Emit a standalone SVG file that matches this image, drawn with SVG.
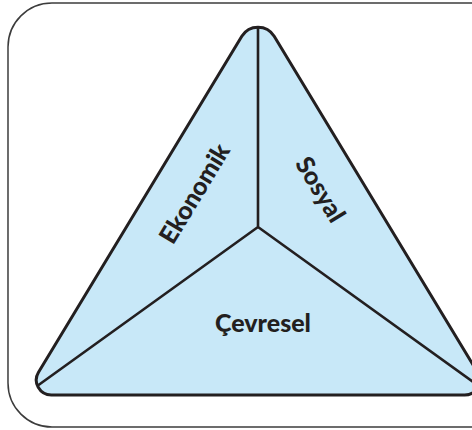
<svg xmlns="http://www.w3.org/2000/svg" width="472" height="430" viewBox="0 0 472 430">
  <style>
    .frame { fill: #ffffff; stroke: #3c3c3c; stroke-width: 1.5; }
    .tri { fill: #c8e8f8; stroke: #231f20; stroke-width: 3; stroke-linejoin: round; }
    .div { fill: none; stroke: #231f20; stroke-width: 2.6; stroke-linecap: butt; }
    .lbl { font-family: Lato, "Open Sans", "Liberation Sans", sans-serif; font-weight: 900; font-size: 25px; fill: #231f20; text-anchor: middle; }
  </style>
  <rect width="472" height="430" fill="#ffffff"/>
  <rect class="frame" x="8" y="3" width="520" height="424" rx="44" ry="44"/>
  <g id="triangle">
    <path class="tri" d="M 241.8 36.2 A 19 19 0 0 1 274.2 36.2 L 477.5 372.2 A 15 15 0 0 1 464.7 395 L 51.3 395 A 15 15 0 0 1 38.5 372.2 Z"/>
  </g>
  <g id="connectors">
    <path class="div" d="M 258 27 L 258 227 M 258 227 L 37.5 385.8 M 258 227 L 478.5 385.8"/>
  </g>
  <g id="ekonomik">
    <text class="lbl" transform="translate(202,198) rotate(-58.8)">Ekonomik</text>
  </g>
  <g id="sosyal">
    <text class="lbl" transform="translate(313,194) rotate(58.8)">Sosyal</text>
  </g>
  <g id="cevresel">
    <text class="lbl" x="263" y="332">Çevresel</text>
  </g>
</svg>
